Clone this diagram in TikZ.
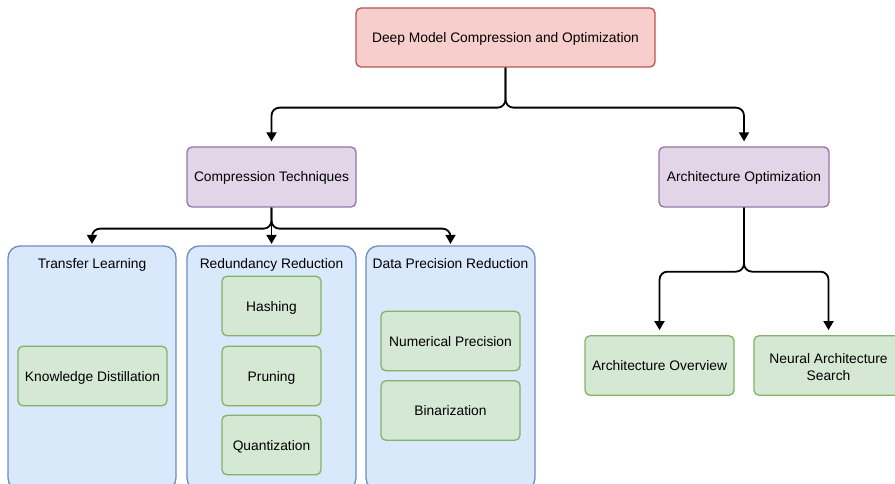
\documentclass[tikz,border=0pt]{standalone}
\usepackage{fontspec}
\setmainfont{Liberation Sans}
\usetikzlibrary{arrows.meta}

\definecolor{rootfill}{HTML}{F8CECC}
\definecolor{rootline}{HTML}{B85450}
\definecolor{purfill}{HTML}{E1D5E7}
\definecolor{purline}{HTML}{9673A6}
\definecolor{bluefill}{HTML}{DAE8FC}
\definecolor{blueline}{HTML}{6C8EBF}
\definecolor{grnfill}{HTML}{D5E8D4}
\definecolor{grnline}{HTML}{82B366}

\begin{document}
\begin{tikzpicture}[x=1pt,y=1pt,
    every node/.style={font=\fontsize{13.8}{16.5}\selectfont, inner sep=0pt, text height=10pt, text depth=0pt},
    box/.style={draw, line width=1.3pt, rounded corners=5pt, align=center},
    rootbox/.style={box, fill=rootfill, draw=rootline},
    catbox/.style={box, fill=purfill, draw=purline, minimum height=60},
    groupbox/.style={box, fill=bluefill, draw=blueline, rounded corners=12pt, minimum height=244},
    leafbox/.style={box, fill=grnfill, draw=grnline, minimum height=59.5},
    conn/.style={line width=1.8pt, rounded corners=8pt, -{Triangle[length=9pt,width=10pt]}, shorten >=5pt}]
        \useasboundingbox (0,0) rectangle (895,-484);
        \node [rootbox, minimum width=299, minimum height=59] (root) at (505.5,-37.5) {Deep Model Compression and Optimization};
        \node [catbox, minimum width=169] (comp) at (271.5,-177) {Compression Techniques};
        \node [catbox, minimum width=170] (archopt) at (744,-177) {Architecture Optimization};
        \node [groupbox, minimum width=168] (transfer) at (92,-368) {};
        \node [groupbox, minimum width=169] (redund) at (271.5,-368) {};
        \node [groupbox, minimum width=169] (precis) at (450.5,-368) {};
        \node (transfertitle) at (92,-263) {Transfer Learning};
        \node (redundtitle) at (271.5,-263) {Redundancy Reduction};
        \node (precistitle) at (450.5,-263) {Data Precision Reduction};
        \node [leafbox, minimum width=149] (distill) at (92.5,-376) {Knowledge Distillation};
        \node [leafbox, minimum width=99] (hashing) at (271.5,-306) {Hashing};
        \node [leafbox, minimum width=99] (pruning) at (271.5,-376) {Pruning};
        \node [leafbox, minimum width=99] (quant) at (271.5,-445) {Quantization};
        \node [leafbox, minimum width=139] (numeric) at (450.5,-341) {Numerical Precision};
        \node [leafbox, minimum width=139] (binar) at (450.5,-410.5) {Binarization};
        \node [leafbox, minimum width=149] (overview) at (659.5,-365.5) {Architecture Overview};
        \node [leafbox, minimum width=149, text height=29pt] (nas) at (828.5,-365.5) {Neural Architecture\\Search};
        \draw [conn] (root.south) -- ++(0,-40) -| (comp.north);
        \draw [conn] (root.south) -- ++(0,-40) -| (archopt.north);
        \draw [conn, shorten >=1.5pt] (comp.south) -- ++(0,-21) -| (transfer.north);
        \draw [conn, shorten >=1.5pt] (comp.south) -- (redund.north);
        \draw [conn, shorten >=1.5pt] (comp.south) -- ++(0,-21) -| (precis.north);
        \draw [conn] (archopt.south) -- ++(0,-64) -| (overview.north);
        \draw [conn] (archopt.south) -- ++(0,-64) -| (nas.north);
\end{tikzpicture}
\end{document}
